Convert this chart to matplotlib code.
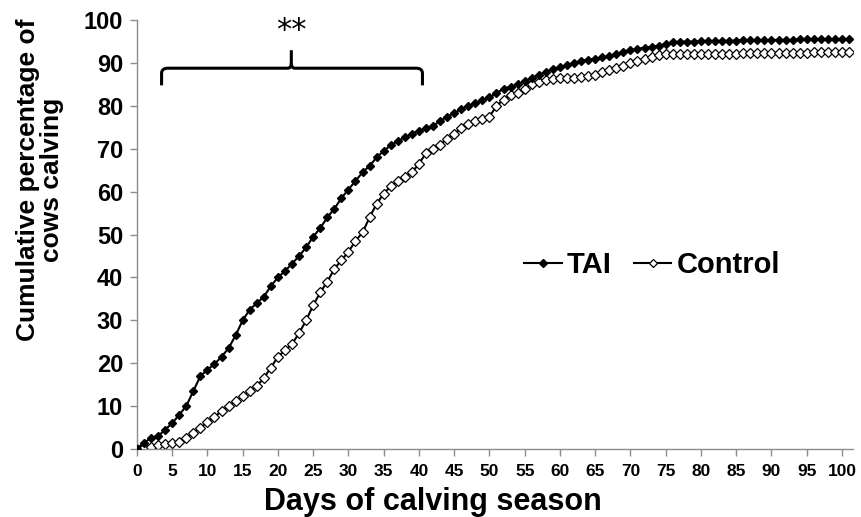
import matplotlib
matplotlib.use("Agg")
import matplotlib.pyplot as plt
from matplotlib.path import Path
from matplotlib.patches import PathPatch

plt.rcParams['font.family'] = ['Liberation Sans', 'DejaVu Sans']

days = list(range(0, 102))
tai = [0, 1.5, 2.5, 3, 4.5, 6, 8, 10, 13.5, 17,
       18.5, 19.8, 21.5, 23.5, 26.5, 30, 32.5, 34, 35.5, 38,
       40, 41.5, 43.2, 45, 47, 49.5, 51.5, 54, 56, 58.5,
       60.5, 62.5, 64.5, 66, 68, 69.5, 70.8, 71.8, 72.7, 73.5,
       74.2, 74.8, 75.3, 76.5, 77.5, 78.3, 79.3, 80, 80.7, 81.3,
       82, 83, 84, 84.5, 85, 85.8, 86.5, 87.2, 88, 88.5,
       89, 89.5, 90, 90.5, 90.8, 91, 91.3, 91.6, 92, 92.5,
       93, 93.3, 93.6, 93.8, 94, 94.5, 94.8, 95, 95, 95,
       95.1, 95.1, 95.1, 95.2, 95.2, 95.2, 95.3, 95.3, 95.3, 95.3,
       95.4, 95.4, 95.4, 95.4, 95.5, 95.5, 95.5, 95.5, 95.5, 95.5,
       95.5, 95.5]
control = [0, 0.3, 0.5, 1, 1.2, 1.5, 1.7, 2.5, 3.8, 5,
           6.2, 7.5, 8.8, 10, 11.2, 12.3, 13.5, 14.7, 16.5, 19,
           21.5, 23, 24.5, 27, 30, 33.5, 36.5, 39, 42, 44,
           46, 48.5, 50.5, 54, 57.2, 59.5, 61.3, 62.5, 63.5, 64.5,
           66.5, 69, 70, 71, 72.3, 73.5, 74.8, 75.8, 76.5, 77,
           77.5, 80, 81.5, 82.5, 83, 84, 85, 85.5, 86, 86.3,
           86.5, 86.5, 86.6, 86.7, 87, 87.3, 87.8, 88.3, 88.8, 89.3,
           90, 90.5, 91, 91.5, 91.8, 92, 92, 92, 92.1, 92.1,
           92.1, 92.1, 92.2, 92.2, 92.2, 92.2, 92.3, 92.3, 92.3, 92.3,
           92.3, 92.4, 92.4, 92.4, 92.4, 92.4, 92.5, 92.5, 92.5, 92.5,
           92.5, 92.5]
x_ticks = list(range(0, 101, 5))
y_ticks = list(range(0, 101, 10))
series_labels = ["TAI", "Control"]
x_label = "Days of calving season"
y_label = "Cumulative percentage of\ncows calving"
sig_text = "**"

fig = plt.figure(figsize=(8.61, 5.17), dpi=100)
ax = fig.add_axes([0.159, 0.1315, 0.832, 0.8295])

ax.plot(days, tai, color='black', lw=1.5, marker='D', ms=4.5,
        mfc='black', mec='black', label=series_labels[0], zorder=3)
ax.plot(days, control, color='black', lw=1.5, marker='D', ms=4.8,
        mfc='white', mec='black', mew=0.9, label=series_labels[1], zorder=2)

ax.set_xlim(0, 101.6)
ax.set_ylim(0, 100)
ax.set_xticks(x_ticks)
ax.set_yticks(y_ticks)
for s in ['top', 'right']:
    ax.spines[s].set_visible(False)
for s in ['left', 'bottom']:
    ax.spines[s].set_color('#8c8c8c')
    ax.spines[s].set_linewidth(1.0)
ax.tick_params(axis='both', colors='#8c8c8c', length=5, width=1)
for lab in ax.get_yticklabels():
    lab.set_fontsize(17)
    lab.set_fontweight('bold')
    lab.set_color('black')
for lab in ax.get_xticklabels():
    lab.set_fontsize(12.5)
    lab.set_fontweight('bold')
    lab.set_color('black')
ax.tick_params(axis='y', pad=5)
ax.tick_params(axis='x', pad=6)

fig.text(433 / 861, 1 - 502 / 517, x_label, fontsize=22, fontweight='bold',
         ha='center', va='center')
fig.text(40 / 861, 1 - 180 / 517, y_label, fontsize=19, fontweight='bold',
         ha='center', va='center', rotation=90, multialignment='center',
         linespacing=1.05)

leg = ax.legend(loc='center', bbox_to_anchor=(0.719, 0.429), ncol=2, frameon=False,
                prop={'size': 21, 'weight': 'bold'}, handlelength=1.3,
                handletextpad=0.17, columnspacing=0.75)
for h in leg.legend_handles:
    h.set_markersize(3.8)

# significance brace
x0, x1, xm = 3.5, 40.5, 21.9
yb, yl, yt = 88.8, 84.8, 93.0
r = 1.2
verts = [(x0, yl), (x0, yb - r), (x0, yb), (x0 + 0.9, yb),
         (xm - 0.5, yb), (xm, yb), (xm, yb + r), (xm, yt)]
codes = [Path.MOVETO, Path.LINETO, Path.CURVE3, Path.CURVE3,
         Path.LINETO, Path.CURVE3, Path.CURVE3, Path.LINETO]
verts2 = [(x1, yl), (x1, yb - r), (x1, yb), (x1 - 0.9, yb),
          (xm + 0.5, yb), (xm, yb), (xm, yb + r)]
codes2 = [Path.MOVETO, Path.LINETO, Path.CURVE3, Path.CURVE3,
          Path.LINETO, Path.CURVE3, Path.CURVE3]
for v, c in [(verts, codes), (verts2, codes2)]:
    ax.add_patch(PathPatch(Path(v, c), fill=False, lw=2.2, color='black',
                           clip_on=False, zorder=4))
ax.text(xm, 97.5, sig_text, ha='center', va='center', fontsize=22,
        family=['DejaVu Sans'], clip_on=False)

fig.savefig("out.png", dpi=100)
